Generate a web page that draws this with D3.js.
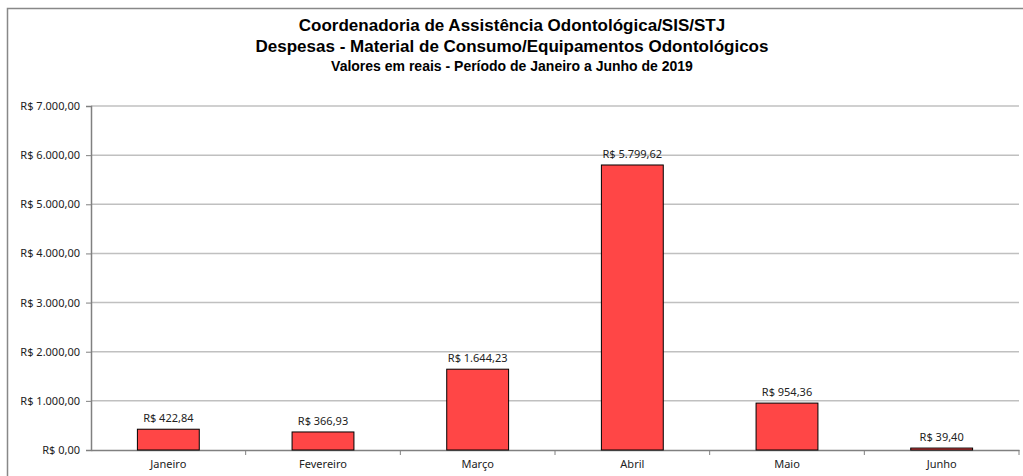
<!DOCTYPE html>
<html>
<head>
<meta charset="utf-8">
<script src="https://cdn.jsdelivr.net/npm/d3@7"></script>
<style>
  body { margin: 0; background: #fff; }
  svg { display: block; }
</style>
</head>
<body>
<div id="chart"></div>
<script>
const months = ['Janeiro', 'Fevereiro', 'Março', 'Abril', 'Maio', 'Junho']
const values = [422.84, 366.93, 1644.23, 5799.62, 954.36, 39.40]
const yTicks = [0, 1000, 2000, 3000, 4000, 5000, 6000, 7000]
const titleLines = [
  'Coordenadoria de Assistência Odontológica/SIS/STJ',
  'Despesas - Material de Consumo/Equipamentos Odontológicos',
  'Valores em reais - Período de Janeiro a Junho de 2019'
]

const W = 1023
const H = 476
const plot = { left: 91, right: 1019, top: 106, bottom: 450 }
const colors = {
  bar: '#FF4646',
  grid: '#C0C0C0',
  axis: '#808080',
  text: '#222222'
}

const fmt = (v) => 'R$ ' + v.toFixed(2).replace('.', ',').replace(/\B(?=(\d{3})+(?!\d))/g, '.')

const svg = d3.select('#chart').append('svg')
  .attr('width', W)
  .attr('height', H)

// moldura externa
svg.append('rect')
  .attr('x', 7.5).attr('y', 8.5)
  .attr('width', W + 10).attr('height', H + 10)
  .attr('fill', 'none')
  .attr('stroke', '#888')
  .attr('stroke-width', 1.5)

const x = d3.scaleBand()
  .domain(months)
  .range([plot.left, plot.right])
  .padding(0)

const y = d3.scaleLinear()
  .domain([0, 7000])
  .range([plot.bottom, plot.top])

// grade
svg.append('g')
  .selectAll('line')
  .data(yTicks.filter((d) => d > 0))
  .enter()
  .append('line')
  .attr('x1', plot.left).attr('x2', plot.right)
  .attr('y1', (d) => y(d)).attr('y2', (d) => y(d))
  .attr('stroke', colors.grid)
  .attr('stroke-width', 1.5)

// eixo Y
svg.append('g')
  .attr('transform', `translate(${plot.left},0)`)
  .call(d3.axisLeft(y).tickValues(yTicks).tickFormat(fmt).tickSize(5).tickPadding(6))
  .call((g) => {
    g.select('.domain').attr('stroke', colors.axis).attr('stroke-width', 1.5)
    g.selectAll('.tick line').attr('stroke', colors.axis)
    g.selectAll('.tick text')
      .style('font-family', '"Noto Sans", sans-serif')
      .style('font-size', '11px')
      .style('fill', colors.text)
  })

// eixo X
svg.append('g')
  .attr('transform', `translate(0,${plot.bottom})`)
  .call(d3.axisBottom(x).tickSize(0).tickPadding(10))
  .call((g) => {
    g.select('.domain').attr('stroke', colors.axis).attr('stroke-width', 1.5)
    g.selectAll('.tick text')
      .style('font-family', '"Noto Sans", sans-serif')
      .style('font-size', '11px')
      .style('fill', colors.text)
  })

// marcas entre categorias
svg.append('g')
  .selectAll('line')
  .data(months.slice(1).concat(['end']))
  .enter()
  .append('line')
  .attr('x1', (d) => (d === 'end' ? plot.right : x(d)))
  .attr('x2', (d) => (d === 'end' ? plot.right : x(d)))
  .attr('y1', plot.bottom)
  .attr('y2', plot.bottom + 5)
  .attr('stroke', colors.axis)

// barras
const barW = x.bandwidth() * 0.4
const bars = svg.append('g')
  .selectAll('g')
  .data(months.map((m, i) => ({ month: m, value: values[i] })))
  .enter()
  .append('g')

bars.append('rect')
  .attr('x', (d) => x(d.month) + (x.bandwidth() - barW) / 2)
  .attr('y', (d) => y(d.value))
  .attr('width', barW)
  .attr('height', (d) => y(0) - y(d.value))
  .attr('fill', colors.bar)
  .attr('stroke', '#000')
  .attr('stroke-width', 1)

bars.append('text')
  .attr('x', (d) => x(d.month) + x.bandwidth() / 2)
  .attr('y', (d) => y(d.value) - 7)
  .attr('text-anchor', 'middle')
  .text((d) => fmt(d.value))
  .style('font-family', '"Noto Sans", sans-serif')
  .style('font-size', '11px')
  .style('fill', colors.text)

// título
const titleY = [31, 52, 71]
const titleSize = [17, 17, 14]
svg.append('g')
  .selectAll('text')
  .data(titleLines)
  .enter()
  .append('text')
  .attr('x', 512)
  .attr('y', (d, i) => titleY[i])
  .attr('text-anchor', 'middle')
  .text((d) => d)
  .style('font-family', '"Liberation Sans", Arial, sans-serif')
  .style('font-weight', 'bold')
  .style('font-size', (d, i) => titleSize[i] + 'px')
  .style('fill', '#000')
</script>
</body>
</html>
